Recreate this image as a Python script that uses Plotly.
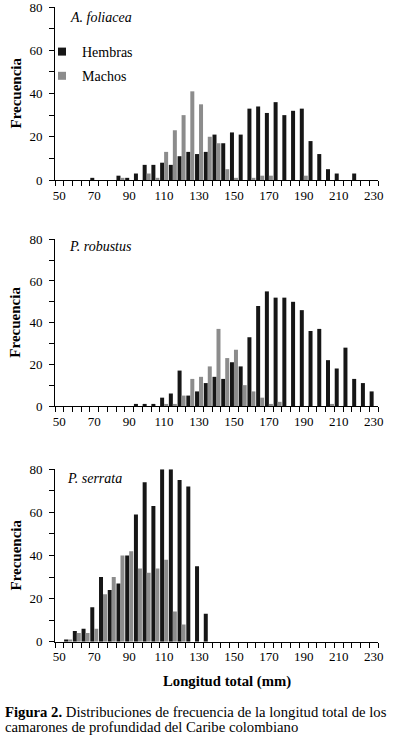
import plotly.graph_objects as go

# ---- data ----
longitud = [50, 55, 60, 65, 70, 75, 80, 85, 90, 95, 100, 105, 110, 115, 120, 125, 130, 135, 140,
            145, 150, 155, 160, 165, 170, 175, 180, 185, 190, 195, 200, 205, 210, 215, 220, 225, 230]

foliacea_hembras = [0, 0, 0, 0, 1, 0, 0, 2, 1, 3, 7, 7, 8, 7, 11, 13, 12, 13, 21,
                    17, 22, 21, 33, 34, 31, 36, 30, 32, 33, 18, 12, 5, 3, 0, 3, 0, 0]
foliacea_machos = [0, 0, 0, 0, 0, 0, 0, 1, 0, 0, 3, 1, 13, 23, 30, 41, 35, 20, 17,
                   5, 1, 0, 1, 2, 2, 0, 0, 0, 2, 0, 0, 0, 0, 0, 0, 0, 0]

robustus_hembras = [0, 0, 0, 0, 0, 0, 0, 0, 0, 1, 1, 1, 4, 6, 17, 5, 7, 11, 14,
                    13, 21, 19, 33, 48, 55, 52, 52, 50, 46, 36, 37, 22, 18, 28, 13, 11, 7]
robustus_machos = [0, 0, 0, 0, 0, 0, 0, 0, 0, 0, 0, 0, 1, 1, 5, 13, 14, 19, 37,
                   23, 27, 10, 7, 4, 1, 2, 0, 0, 0, 0, 0, 1, 0, 0, 0, 0, 0]

serrata_hembras = [0, 1, 5, 6, 16, 30, 24, 27, 40, 59, 74, 63, 80, 80, 75, 72, 35, 13, 0,
                   0, 0, 0, 0, 0, 0, 0, 0, 0, 0, 0, 0, 0, 0, 0, 0, 0, 0]
serrata_machos = [0, 1, 4, 4, 6, 22, 30, 40, 42, 34, 32, 34, 38, 14, 8, 0, 0, 0, 0,
                  0, 0, 0, 0, 0, 0, 0, 0, 0, 0, 0, 0, 0, 0, 0, 0, 0, 0]

especies = ["A. foliacea", "P. robustus", "P. serrata"]
x_ticks = [50, 70, 90, 110, 130, 150, 170, 190, 210, 230]
y_ticks = [0, 20, 40, 60, 80]
series_names = ["Hembras", "Machos"]
caption_1 = "<b>Figura 2.</b> Distribuciones de frecuencia de la longitud total de los"
caption_2 = "camarones de profundidad del Caribe colombiano"

# ---- style ----
DARK = "#161616"
GRAY = "#8c8c8c"
SERIF = "Liberation Serif, Times New Roman, serif"
W, H = 393, 737

panels = [
    (foliacea_hembras, foliacea_machos),
    (robustus_hembras, robustus_machos),
    (serrata_hembras, serrata_machos),
]
# pixel positions of y=80 and y=0 for each panel
px_top = [7, 239.3, 469.3]
px_bot = [180, 406, 641.7]
x_left, x_right = 55, 378

fig = go.Figure()
layout = {}
for i, (hem, mac) in enumerate(panels):
    sfx = "" if i == 0 else str(i + 1)
    xa, ya = "x" + sfx, "y" + sfx
    fig.add_trace(go.Bar(x=longitud, y=hem, name=series_names[0], marker_color=DARK,
                         marker_line_width=0, showlegend=False, xaxis=xa, yaxis=ya,
                         offsetgroup="h"))
    fig.add_trace(go.Bar(x=longitud, y=mac, name=series_names[1], marker_color=GRAY,
                         marker_line_width=0, showlegend=False, xaxis=xa, yaxis=ya,
                         offsetgroup="m"))
    dom_y = [1 - px_bot[i] / H, 1 - px_top[i] / H]
    layout["xaxis" + sfx] = dict(
        domain=[x_left / W, x_right / W], range=[47.5, 232.5], anchor=ya,
        tickvals=x_ticks, ticks="", showline=True, linecolor="black", linewidth=1,
        tickfont=dict(family=SERIF, size=13, color="black"),
        minor=dict(tick0=47.5, dtick=5, ticks="outside", ticklen=5, tickcolor="black", tickwidth=1),
        showgrid=False, zeroline=False, fixedrange=True, ticklabelstandoff=3,
        automargin=False, ticklabeloverflow="allow")
    layout["yaxis" + sfx] = dict(
        domain=dom_y, range=[0, 80], anchor=xa, tickvals=y_ticks,
        ticks="outside", ticklen=5, tickcolor="black",
        minor=dict(dtick=10, ticks="outside", ticklen=5, tickcolor="black"),
        showline=True, linecolor="black", linewidth=1, showgrid=False, zeroline=False,
        tickfont=dict(family=SERIF, size=13, color="black"), ticklabelstandoff=4,
        fixedrange=True, automargin=False, ticklabeloverflow="allow")

# legend swatches (panel 1)
fig.add_trace(go.Scatter(x=[None], y=[None], mode="markers", name=series_names[0],
                         marker=dict(symbol="square", size=8, color=DARK), legendgroup="a"))
fig.add_trace(go.Scatter(x=[None], y=[None], mode="markers", name=series_names[1],
                         marker=dict(symbol="square", size=8, color=GRAY), legendgroup="b"))

annotations = []
species_y = [17.5, 247, 478]
species_x = [68, 67, 65]
for i, name in enumerate(especies):
    annotations.append(dict(text="<i>%s</i>" % name, x=species_x[i] / W, y=1 - species_y[i] / H,
                            xref="paper", yref="paper", xanchor="left", yanchor="middle",
                            showarrow=False, font=dict(family=SERIF, size=14, color="black")))
    mid = (px_top[i] + px_bot[i]) / 2
    annotations.append(dict(text="<b>Frecuencia</b>", x=15 / W, y=1 - mid / H, textangle=-90,
                            xref="paper", yref="paper", xanchor="center", yanchor="middle",
                            showarrow=False, font=dict(family=SERIF, size=15, color="black")))

annotations.append(dict(text="<b>Longitud total (mm)</b>", x=226.5 / W, y=1 - 681 / H,
                        xref="paper", yref="paper", xanchor="center", yanchor="middle",
                        showarrow=False, font=dict(family=SERIF, size=14.7, color="black")))
for txt, yc in [(caption_1, 712), (caption_2, 727)]:
    annotations.append(dict(
        text=txt, x=3 / W, y=1 - yc / H, xref="paper", yref="paper",
        xanchor="left", yanchor="middle", align="left", showarrow=False,
        font=dict(family=SERIF, size=14.7, color="black")))

fig.update_layout(
    width=W, height=H, margin=dict(l=0, r=0, t=0, b=0),
    paper_bgcolor="white", plot_bgcolor="white",
    barmode="group", bargap=0.084, bargroupgap=0,
    showlegend=True,
    legend=dict(x=42 / W, y=1 - 36 / H, xanchor="left", yanchor="top",
                font=dict(family=SERIF, size=14, color="black"), bgcolor="rgba(0,0,0,0)",
                tracegroupgap=3, itemwidth=30),
    annotations=annotations,
    **layout,
)

fig.write_html("out.html", config={"displayModeBar": False},
               post_script="document.body.style.margin='0';")
